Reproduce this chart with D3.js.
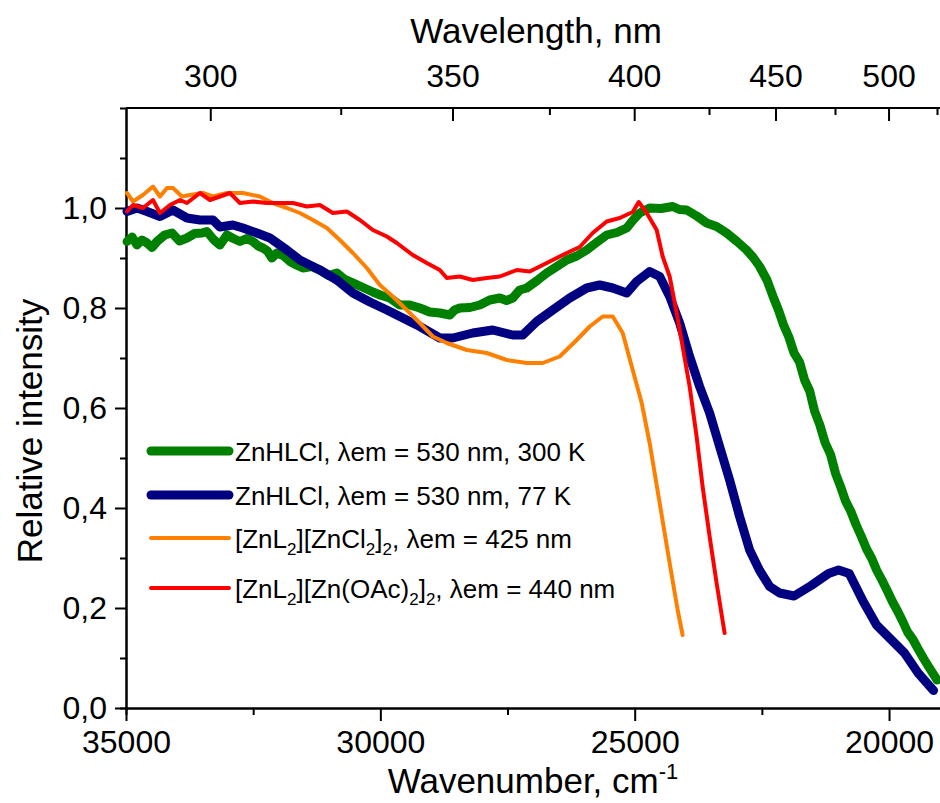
<!DOCTYPE html>
<html>
<head>
<meta charset="utf-8">
<style>
  body { margin: 0; background: #fff; }
  svg text { font-family: "Liberation Sans", Arial, sans-serif; fill: #000; }
  .axis path, .axis line { stroke: #000; stroke-width: 2px; }
  .axis text { font-size: 32px; }
</style>
<script src="https://d3js.org/d3.v7.min.js"></script>
</head>
<body>
<div id="chart"></div>
<script>
// wavenumber (cm-1) and relative intensity
var wnGreen = [34980,34880,34784,34690,34587,34490,34391,34240,34096,33950,33802,33650,33507,33409,33280,33153,33016,32890,32760,32630,32505,32400,32308,32220,32132,32033,31900,31778,31650,31523,31350,31189,31020,30855,30700,30540,30340,30147,29980,29813,29617,29420,29224,29030,28831,28635,28540,28438,28240,28045,27850,27652,27520,27397,27260,27122,26930,26729,26530,26336,26140,25943,25750,25550,25350,25157,25030,24902,24800,24706,24480,24254,24120,23979,23780,23586,23390,23193,23000,22800,22670,22544,22400,22269,22170,22073,21970,21867,21760,21660,21560,21464,21360,21258,21150,21051,20950,20855,20750,20646,20540,20442,20340,20245,20140,20037,19935,19833,19730,19636,19530,19428,19320,19224,19055];
var valGreen = [0.933,0.942,0.926,0.936,0.93,0.921,0.933,0.946,0.95,0.934,0.94,0.949,0.95,0.953,0.937,0.926,0.946,0.939,0.933,0.939,0.933,0.924,0.92,0.914,0.90,0.91,0.904,0.893,0.886,0.88,0.883,0.876,0.865,0.87,0.857,0.85,0.841,0.832,0.825,0.82,0.806,0.806,0.80,0.792,0.79,0.786,0.796,0.80,0.801,0.806,0.816,0.82,0.815,0.82,0.836,0.84,0.854,0.87,0.883,0.896,0.904,0.916,0.931,0.946,0.951,0.96,0.976,0.99,0.995,1.0,0.999,1.003,0.997,0.996,0.984,0.97,0.963,0.95,0.934,0.916,0.901,0.883,0.856,0.82,0.795,0.766,0.742,0.71,0.692,0.656,0.634,0.594,0.566,0.531,0.507,0.469,0.442,0.414,0.393,0.366,0.342,0.318,0.299,0.276,0.256,0.235,0.213,0.194,0.173,0.152,0.137,0.118,0.099,0.083,0.056];

var wnBlue = [34980,34784,34587,34332,34077,33802,33546,33291,33153,32898,32701,32426,32171,31837,31582,31189,30855,30540,30206,29872,29617,29224,28831,28576,28183,27790,27397,27201,26925,26611,26277,25943,25688,25432,25157,24961,24706,24509,24313,24116,23920,23724,23527,23331,23134,22938,22741,22544,22348,22151,21867,21529,21189,20993,20783,20513,20246,19971,19696,19429,19126];
var valBlue = [0.993,1.0,0.993,0.983,0.996,0.98,0.976,0.976,0.962,0.966,0.96,0.95,0.94,0.916,0.896,0.876,0.856,0.83,0.812,0.796,0.783,0.763,0.74,0.74,0.75,0.756,0.746,0.746,0.773,0.796,0.82,0.84,0.846,0.84,0.83,0.853,0.873,0.863,0.823,0.77,0.703,0.643,0.59,0.523,0.456,0.383,0.316,0.275,0.243,0.23,0.224,0.245,0.269,0.276,0.269,0.214,0.166,0.138,0.11,0.07,0.035];

var wnOrange = [34980,34862,34666,34470,34332,34195,34077,33900,33743,33487,33291,33016,32701,32367,32112,31837,31582,31326,31051,30796,30540,30265,30010,29755,29480,29224,28969,28694,28301,27908,27515,27122,26808,26474,26140,25884,25629,25432,25236,25039,24862,24706,24509,24313,24156,24058];
var valOrange = [1.03,1.013,1.026,1.043,1.023,1.04,1.04,1.023,1.026,1.03,1.023,1.03,1.03,1.023,1.01,1.0,0.99,0.976,0.96,0.936,0.91,0.88,0.846,0.823,0.796,0.77,0.743,0.73,0.716,0.71,0.696,0.69,0.69,0.703,0.736,0.763,0.783,0.783,0.75,0.676,0.61,0.53,0.41,0.29,0.196,0.146];

var wnRed = [34980,34862,34666,34470,34332,34136,33939,33802,33546,33350,33153,32957,32760,32505,32230,31975,31719,31444,31189,30933,30658,30403,30147,29872,29676,29362,29087,28831,28694,28438,28183,27908,27652,27318,27063,26729,26336,26081,25826,25550,25295,25039,24921,24764,24568,24450,24313,24175,24058,23920,23783,23665,23527,23390,23233];
var valRed = [0.993,1.006,1.0,1.016,0.99,1.006,1.016,1.01,1.03,1.016,1.023,1.03,1.01,1.013,1.01,1.01,1.01,1.003,1.006,0.99,0.993,0.976,0.956,0.943,0.93,0.906,0.89,0.876,0.86,0.863,0.856,0.86,0.863,0.876,0.873,0.89,0.91,0.922,0.95,0.973,0.98,0.992,1.012,0.99,0.956,0.903,0.863,0.79,0.723,0.643,0.543,0.443,0.343,0.25,0.15];

var wnTicks = [35000, 30000, 25000, 20000];
var wnMinor = [32500, 27500, 22500];
var nmTicks = [300, 350, 400, 450, 500];
var nmMinor = [325, 375, 425, 475, 525];
var yTicks = [0, 0.2, 0.4, 0.6, 0.8, 1.0];
var yMinor = [0.1, 0.3, 0.5, 0.7, 0.9, 1.1];

var width = 940, height = 803;
var plotL = 126, plotT = 108, plotB = 708, plotR = 945;

var svg = d3.select("#chart").append("svg")
    .attr("width", width).attr("height", height);

var x = d3.scaleLinear().domain([35000, 18900]).range([plotL, plotR]);
var y = d3.scaleLinear().domain([0, 1.2]).range([plotB, plotT]);
var fmtY = function(d) { return d3.format(".1f")(d).replace(".", ","); };

// minor ticks first, then major axes
svg.append("g").attr("class", "axis")
    .attr("transform", "translate(0," + plotB + ")")
    .call(d3.axisBottom(x).tickValues(wnMinor).tickSize(7).tickFormat(""));
svg.append("g").attr("class", "axis")
    .attr("transform", "translate(0," + plotB + ")")
    .call(d3.axisBottom(x).tickValues(wnTicks).tickSize(13).tickSizeOuter(0).tickPadding(9).tickFormat(d3.format("d")));

svg.append("g").attr("class", "axis")
    .attr("transform", "translate(" + plotL + ",0)")
    .call(d3.axisLeft(y).tickValues(yMinor).tickSize(6).tickFormat(""));
svg.append("g").attr("class", "axis")
    .attr("transform", "translate(" + plotL + ",0)")
    .call(d3.axisLeft(y).tickValues(yTicks).tickSize(11).tickSizeOuter(0).tickPadding(8).tickFormat(fmtY));

// top axis: wavelength in nm, placed at 1e7/nm
var topAxis = svg.append("g").attr("class", "axis")
    .attr("transform", "translate(0," + plotT + ")");
topAxis.append("line").attr("x1", plotL).attr("x2", width).attr("y1", 0).attr("y2", 0);
topAxis.selectAll(".minor").data(nmMinor).enter().append("line")
    .attr("x1", function(d) { return x(1e7 / d); })
    .attr("x2", function(d) { return x(1e7 / d); })
    .attr("y1", 0).attr("y2", 7);
topAxis.selectAll(".major").data(nmTicks).enter().append("line")
    .attr("x1", function(d) { return x(1e7 / d); })
    .attr("x2", function(d) { return x(1e7 / d); })
    .attr("y1", 0).attr("y2", 13);
topAxis.selectAll("text").data(nmTicks).enter().append("text")
    .attr("x", function(d) { return x(1e7 / d); })
    .attr("y", -21)
    .attr("text-anchor", "middle")
    .text(function(d) { return d; });

// axis titles
svg.append("text").attr("x", 536).attr("y", 43).attr("text-anchor", "middle")
    .style("font-size", "35px").text("Wavelength, nm");
var xt = svg.append("text").attr("x", 533).attr("y", 793).attr("text-anchor", "middle")
    .style("font-size", "35px");
xt.append("tspan").text("Wavenumber, cm");
xt.append("tspan").attr("dy", -14).style("font-size", "22px").text("-1");
svg.append("text").attr("transform", "translate(42,431) rotate(-90)")
    .attr("text-anchor", "middle").style("font-size", "35px").text("Relative intensity");

// curves
var series = [
    { wn: wnGreen, val: valGreen, color: "#008000", w: 9 },
    { wn: wnBlue, val: valBlue, color: "#000080", w: 9 },
    { wn: wnOrange, val: valOrange, color: "#FF8000", w: 4 },
    { wn: wnRed, val: valRed, color: "#FF0000", w: 4 }
];
var line = d3.line()
    .x(function(d) { return x(d[0]); })
    .y(function(d) { return y(d[1]); });

series.forEach(function(s) {
    svg.append("path")
        .datum(d3.zip(s.wn, s.val))
        .attr("fill", "none")
        .attr("stroke", s.color)
        .attr("stroke-width", s.w)
        .attr("stroke-linejoin", "round")
        .attr("stroke-linecap", "round")
        .attr("d", line);
});

// legend
var legendLabels = [
    [{ t: "ZnHLCl, λem = 530 nm, 300 K" }],
    [{ t: "ZnHLCl, λem = 530 nm, 77 K" }],
    [{ t: "[ZnL" }, { t: "2", sub: 1 }, { t: "][ZnCl" }, { t: "2", sub: 1 }, { t: "]" }, { t: "2", sub: 1 }, { t: ", λem = 425 nm" }],
    [{ t: "[ZnL" }, { t: "2", sub: 1 }, { t: "][Zn(OAc)" }, { t: "2", sub: 1 }, { t: "]" }, { t: "2", sub: 1 }, { t: ", λem = 440 nm" }]
];
var legendY = [451, 495, 538, 588];

series.forEach(function(s, i) {
    svg.append("line")
        .attr("x1", 151).attr("x2", 229)
        .attr("y1", legendY[i]).attr("y2", legendY[i])
        .attr("stroke", s.color).attr("stroke-width", s.w)
        .attr("stroke-linecap", "round");
    var t = svg.append("text").attr("x", 235).attr("y", legendY[i] + 10)
        .style("font-size", "26px");
    var shifted = false;
    legendLabels[i].forEach(function(seg) {
        var ts = t.append("tspan").text(seg.t);
        if (seg.sub && !shifted) { ts.attr("dy", 7).style("font-size", "17px"); shifted = true; }
        else if (seg.sub) { ts.style("font-size", "17px"); }
        else if (shifted) { ts.attr("dy", -7); shifted = false; }
    });
});
</script>
</body>
</html>
